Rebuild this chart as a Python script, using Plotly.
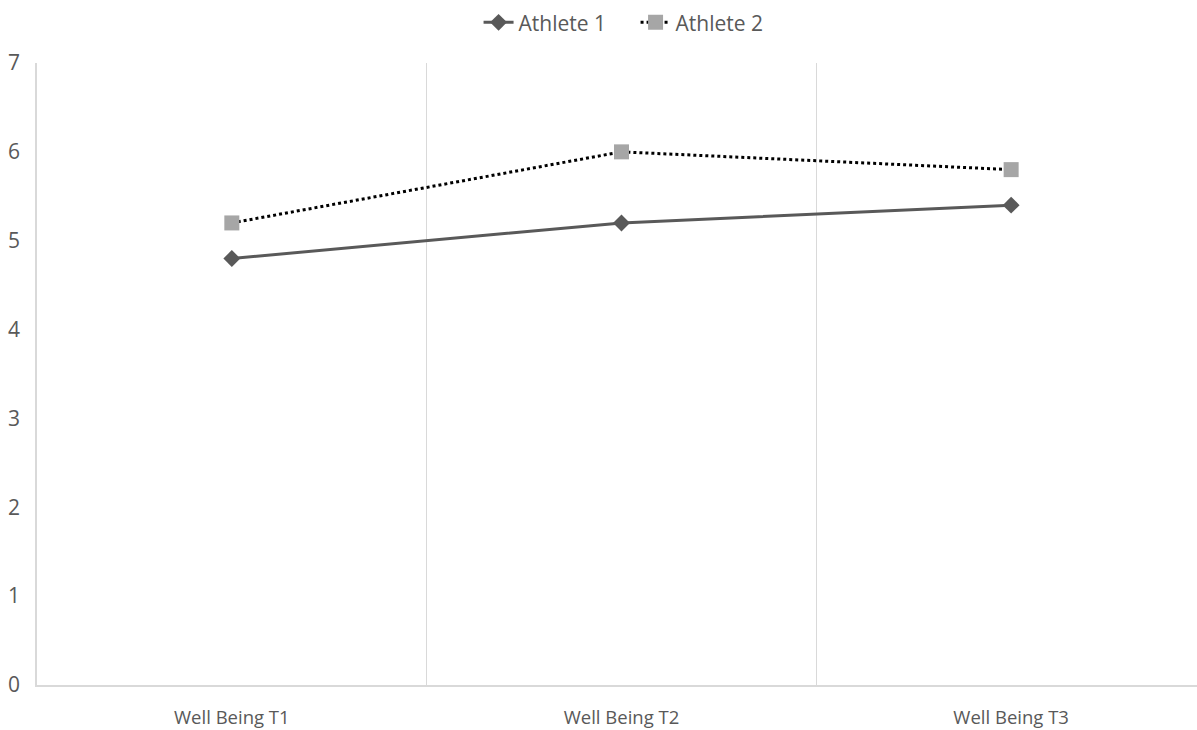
import plotly.graph_objects as go

categories = ["Well Being T1", "Well Being T2", "Well Being T3"]
athlete_1 = [4.8, 5.2, 5.4]
athlete_2 = [5.2, 6.0, 5.8]
y_ticks = [0, 1, 2, 3, 4, 5, 6, 7]

font_family = "Open Sans, Liberation Sans, sans-serif"
text_color = "#595959"

fig = go.Figure()
fig.add_trace(go.Scatter(
    x=categories, y=athlete_1, name="Athlete 1", mode="lines+markers",
    line=dict(color="#595959", width=3),
    marker=dict(symbol="diamond", size=13, color="#595959"),
))
fig.add_trace(go.Scatter(
    x=categories, y=athlete_2, name="Athlete 2", mode="lines+markers",
    line=dict(color="#000000", width=3, dash="dot"),
    marker=dict(symbol="square", size=15, color="#a6a6a6"),
))

fig.update_layout(
    width=1197, height=730,
    margin=dict(l=37, r=0, t=63, b=45),
    paper_bgcolor="white", plot_bgcolor="white",
    font=dict(family=font_family, color=text_color),
    showlegend=True,
    legend=dict(orientation="h", x=0.516, xanchor="center",
                y=0.997, yanchor="top", yref="container",
                font=dict(size=21, color=text_color),
                itemwidth=30, entrywidth=112, entrywidthmode="pixels",
                traceorder="normal"),
    xaxis=dict(
        type="category", range=[-0.5, 2.477],
        tickson="boundaries", showgrid=True, gridcolor="#d9d9d9", gridwidth=1,
        showline=True, linecolor="#d9d9d9", linewidth=1.5,
        ticks="", tickfont=dict(size=18.5, color=text_color),
        ticklabelstandoff=15, zeroline=False,
    ),
    yaxis=dict(
        range=[0, 7], tickvals=y_ticks, showgrid=False,
        showline=True, linecolor="#d9d9d9", linewidth=1.5,
        ticks="", tickfont=dict(size=21, color=text_color),
        ticklabelstandoff=11, zeroline=False,
    ),
)

fig.write_html("out.html")
